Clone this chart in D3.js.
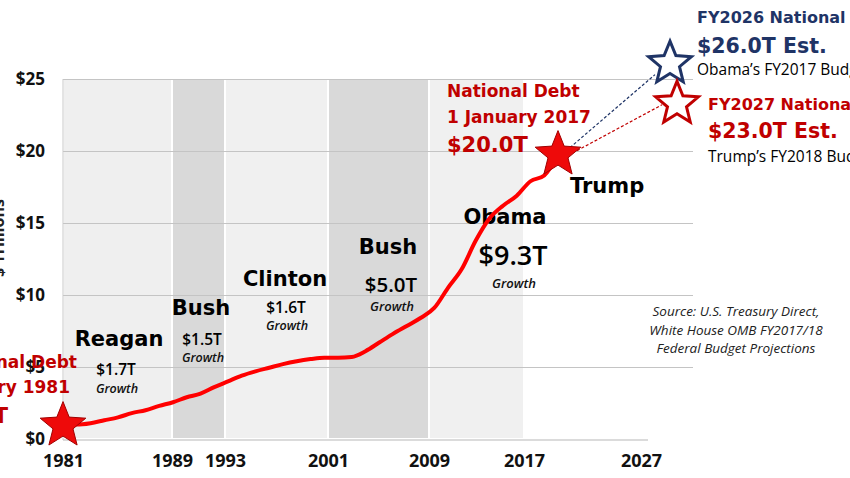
<!DOCTYPE html>
<html><head><meta charset="utf-8">
<script src="https://cdn.jsdelivr.net/npm/d3@7"></script>
<style>body{margin:0;background:#fff;overflow:hidden}svg{display:block}</style>
</head><body>
<svg id="c" width="850" height="478"></svg>
<script>
// ---------------- data ----------------
const years = [1981,1982,1983,1984,1985,1986,1987,1988,1989,1990,1991,1992,1993,1994,1995,1996,1997,1998,1999,
               2000,2001,2002,2003,2004,2005,2006,2007,2008,2009,2010,2011,2012,2013,2014,2015,2016,2017];
const debt  = [1.0,1.0,1.1,1.3,1.5,1.8,2.0,2.3,2.55,2.9,3.15,3.6,4.0,4.4,4.7,4.95,5.2,5.4,5.55,
               5.65,5.65,5.7,6.1,6.7,7.3,7.85,8.4,9.1,10.5,11.8,13.75,15.3,16.2,16.9,17.9,18.3,19.75];
const tickYears = [1981,1989,1993,2001,2009,2017,2027];
const yTicks = [0,5,10,15,20,25];
const presidents = ["Reagan","Bush","Clinton","Bush","Obama"];
const termStart = [1981,1989,1993,2001,2009];
const termEnd   = [1989,1993,2001,2009,2017];
const growth    = ["$1.7T","$1.5T","$1.6T","$5.0T","$9.3T"];
const estimates = [26.0, 23.0];      // FY2026 (Obama budget), FY2027 (Trump budget)

// ---------------- layout ----------------
const svg = d3.select("#c");
const P = {left:63, right:648, gridRight:693, top:79, bottom:439};
const y = d3.scaleLinear().domain([0,25]).range([P.bottom, P.top]);
const xLine = d3.scaleLinear().domain([1981,2017]).range([P.left, 558]);
const xAx = d3.scaleLinear().domain(tickYears).range([63,172,225,328,429,524,641]);

const RED="#c00000", NAVY="#1f3466";
const numFont="'Open Sans', Lato, sans-serif";
const headFont="'DejaVu Sans', sans-serif";

// bands
const shade = ["#efefef","#d9d9d9","#f0f0f0","#d9d9d9","#f0f0f0"];
svg.append("g").selectAll("rect").data(presidents).join("rect")
  .attr("x",(d,i)=>xAx(termStart[i])+1)
  .attr("width",(d,i)=>xAx(termEnd[i])-xAx(termStart[i])-2)
  .attr("y",y(25)).attr("height",y(0)-y(25)-1)
  .attr("fill",(d,i)=>shade[i]);

// gridlines
const grid = svg.append("g").attr("transform",`translate(${P.left},0)`)
  .call(d3.axisLeft(y).tickValues(yTicks.filter(v=>v>0)).tickSize(-(P.gridRight-P.left)).tickFormat(""));
grid.select(".domain").remove();
grid.selectAll("line").attr("stroke","#c4c4c4").attr("stroke-width",1);

// axis frame lines
svg.append("line").attr("x1",P.left).attr("x2",P.right).attr("y1",y(0)+1).attr("y2",y(0)+1)
  .attr("stroke","#cfcfcf").attr("stroke-width",1.5);
svg.append("line").attr("x1",P.left).attr("x2",P.left).attr("y1",y(25)).attr("y2",y(0)+1)
  .attr("stroke","#c8c8c8").attr("stroke-width",1);

// y labels
const yl = svg.append("g").attr("transform",`translate(${P.left},0)`)
  .call(d3.axisLeft(y).tickValues(yTicks).tickSize(0).tickPadding(18).tickFormat(d=>"$"+d));
yl.select(".domain").remove();
yl.selectAll("text").attr("font-family",numFont).attr("font-weight","bold").attr("font-size",17).attr("fill","#111");

// y title (cut off at left edge)
svg.append("text").attr("transform","translate(4,238) rotate(-90)").attr("text-anchor","middle")
  .attr("font-family",numFont).attr("font-weight","bold").attr("font-size",16).attr("fill","#222").text("$ Trillions");

// x labels
const xl = svg.append("g").attr("transform",`translate(0,${P.bottom})`)
  .call(d3.axisBottom(xAx).tickValues(tickYears).tickSize(0).tickPadding(15).tickFormat(d3.format("d")));
xl.select(".domain").remove();
xl.selectAll("text").attr("font-family",numFont).attr("font-weight","bold").attr("font-size",18).attr("fill","#111");

// president labels
const nameX=[119,201,285,388,505], nameY=[346,315,286,254,224];
const amtX=[116,202,286,391,513], amtY=[375,345,313,292,265], amtSize=[15.5,15.5,15.5,20.5,27];
const grY=[393,362,330,311,288], grSize=[12.5,12.5,12.5,13,13];
svg.append("g").selectAll("text").data(presidents).join("text")
  .attr("x",(d,i)=>nameX[i]).attr("y",(d,i)=>nameY[i]).attr("text-anchor","middle")
  .attr("font-family",headFont).attr("font-weight","bold").attr("font-size",21).attr("fill","#000").text(d=>d);
svg.append("g").selectAll("text").data(growth).join("text")
  .attr("x",(d,i)=>amtX[i]).attr("y",(d,i)=>amtY[i]).attr("text-anchor","middle")
  .attr("font-family",numFont).attr("font-weight",600).attr("font-size",(d,i)=>amtSize[i]).attr("fill","#000").text(d=>d);
svg.append("g").selectAll("text").data(growth).join("text")
  .attr("x",(d,i)=>amtX[i]+1).attr("y",(d,i)=>grY[i]).attr("text-anchor","middle")
  .attr("font-family",numFont).attr("font-style","italic").attr("font-weight",600).attr("font-size",(d,i)=>grSize[i]).attr("fill","#111").text("Growth");

// debt line
const pts = years.map((yr,i)=>({year:yr,value:debt[i]}));
svg.append("path").datum(pts)
  .attr("d",d3.line().x(d=>xLine(d.year)).y(d=>y(d.value)).curve(d3.curveMonotoneX))
  .attr("fill","none").attr("stroke","#ff0000").attr("stroke-width",4).attr("stroke-linejoin","round");

// star helper
function star(R, r){
  const p=[];
  for(let k=0;k<10;k++){
    const a=-Math.PI/2 + k*Math.PI/5, rr = k%2===0?R:r;
    p.push([rr*Math.cos(a), rr*Math.sin(a)]);
  }
  return "M"+p.map(q=>q.join(",")).join("L")+"Z";
}

// start and end stars
const last = pts[pts.length-1], first = pts[0];
const sx = xLine(last.year), sy = y(last.value);
const estPos = [{x:670, y:y(estimates[0])-1, c:NAVY},{x:677, y:y(estimates[1])-4, c:RED}];

// dashed connectors
svg.append("g").selectAll("line").data(estPos).join("line")
  .attr("x1",(d,i)=>sx+12+i*7).attr("y1",(d,i)=>sy-7+i*3)
  .attr("x2",d=>d.x-15).attr("y2",(d,i)=>d.y+(i===0?11:1))
  .attr("stroke",d=>d.c).attr("stroke-width",1.2).attr("stroke-dasharray","3,2");

svg.append("path").attr("d",star(24,10.5)).attr("transform",`translate(${xLine(first.year)},${y(first.value)+1})`)
  .attr("fill","#ee0a0a").attr("stroke","#a00000").attr("stroke-width",1);
svg.append("path").attr("d",star(24,10.5)).attr("transform",`translate(${sx},${sy})`)
  .attr("fill","#ee0a0a").attr("stroke","#a00000").attr("stroke-width",1);
svg.append("g").selectAll("path").data(estPos).join("path")
  .attr("d",star(22.5,10)).attr("transform",d=>`translate(${d.x},${d.y})`)
  .attr("fill","#fff").attr("stroke",d=>d.c).attr("stroke-width",3).attr("stroke-linejoin","miter");

// annotations
function txt(x,yy,s,opt){
  const t=svg.append("text").attr("x",x).attr("y",yy).text(s)
    .attr("font-family",opt.f||headFont).attr("font-weight",opt.w||"bold")
    .attr("font-size",opt.s).attr("fill",opt.c||"#000");
  if(opt.a) t.attr("text-anchor",opt.a);
  if(opt.i) t.attr("font-style","italic");
  return t;
}
// 1981
txt(77,368,"National Debt",{s:17,c:RED,a:"end"});
txt(70,393,"1 January 1981",{s:17,c:RED,a:"end"});
txt(8,423,"$1.0T",{s:21,c:RED,a:"end"});
// 2017
txt(447,97,"National Debt",{s:17,c:RED});
txt(447,123,"1 January  2017",{s:17,c:RED});
txt(447,152,"$20.0T",{s:21,c:RED});
txt(570,193,"Trump",{s:21,c:"#000"});
// FY2026
txt(697,23,"FY2026 National Debt",{s:16,c:NAVY});
txt(697,53,"$26.0T Est.",{s:20.5,c:NAVY});
txt(697,75,"Obama’s FY2017 Budget",{s:15.5,c:"#000",f:numFont,w:500});
// FY2027
txt(708,110,"FY2027 National Debt",{s:16,c:RED});
txt(708,138,"$23.0T Est.",{s:20.5,c:RED});
txt(708,162,"Trump’s FY2018 Budget",{s:15.5,c:"#000",f:numFont,w:500});
// source
txt(736,316,"Source: U.S. Treasury Direct,",{s:13.5,f:numFont,w:"normal",i:1,a:"middle",c:"#222"});
txt(736,335,"White House  OMB FY2017/18",{s:13.5,f:numFont,w:"normal",i:1,a:"middle",c:"#222"});
txt(736,353,"Federal Budget Projections",{s:13.5,f:numFont,w:"normal",i:1,a:"middle",c:"#222"});
</script>
</body></html>
